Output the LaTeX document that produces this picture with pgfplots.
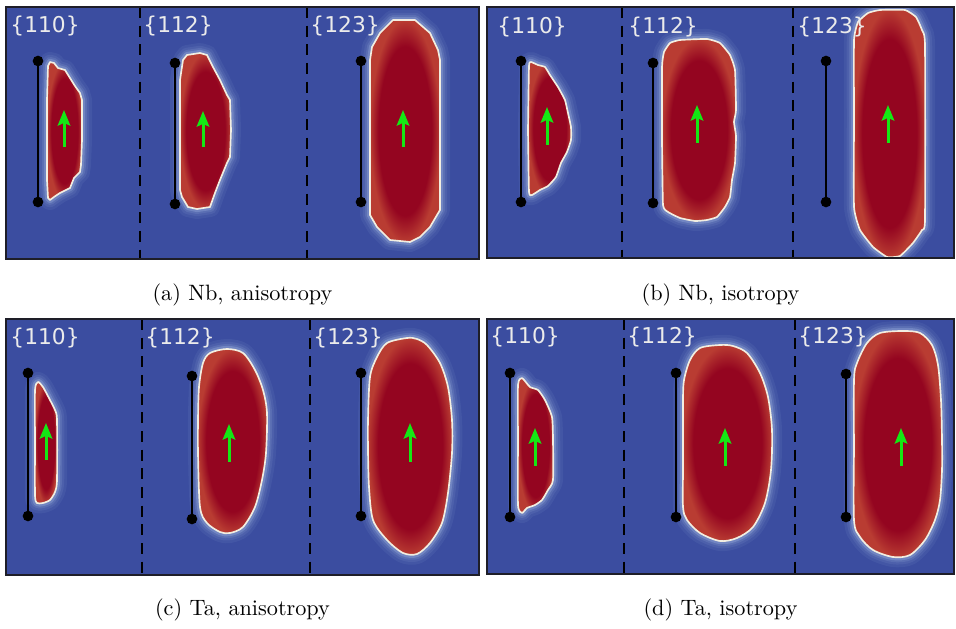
\documentclass[border=0pt]{standalone}
\usepackage{pgfplots}
\pgfplotsset{compat=1.18}
\usepackage{pgfplotstable}
\usepackage{fontspec}
\usetikzlibrary{arrows.meta}
\newfontfamily\labelfont{DejaVu Sans}

% colour map (cool to warm) and annotation colours
\definecolor{bgblue}{RGB}{59,77,160}
\definecolor{framecol}{RGB}{30,30,40}
\definecolor{haze}{RGB}{185,205,240}
\definecolor{rim}{RGB}{242,238,225}
\definecolor{loopdark}{RGB}{148,5,32}
\definecolor{loopedge}{RGB}{185,60,50}
\definecolor{burgers}{RGB}{20,232,20}
\definecolor{labelwhite}{RGB}{235,235,235}

\pgfdeclareradialshading{loopshade}{\pgfpoint{0bp}{0bp}}{%
  color(0bp)=(loopdark); color(19bp)=(loopdark); color(25bp)=(loopedge);
  color(26bp)=(loopedge); color(50bp)=(loopedge)}

% one dislocation loop: soft glow, shaded interior, bright contour
\newcommand{\loopblob}[2][]{%
  \addplot[draw=haze, line width=9pt, opacity=0.07, line join=round, #1] table {#2} -- cycle;
  \addplot[draw=haze, line width=6.5pt, opacity=0.09, line join=round, #1] table {#2} -- cycle;
  \addplot[draw=haze, line width=4.5pt, opacity=0.13, line join=round, #1] table {#2} -- cycle;
  \addplot[draw=haze, line width=2.8pt, opacity=0.25, line join=round, #1] table {#2} -- cycle;
  \addplot[draw=rim, line width=0.75pt, shading=loopshade, line join=round, #1] table {#2} -- cycle;
}
% black reference segment with end points
\newcommand{\segment}[3]{%
  \addplot[black, line width=1.1pt, mark=*, mark size=1.8pt, mark options={fill=black}]
    coordinates {(#1,#2) (#1,#3)};
}
% Burgers vector arrow
\newcommand{\burgers}[3]{%
  \addplot[burgers, line width=1.35pt, -{Stealth[length=7pt, width=5.6pt, inset=1.2pt]}]
    coordinates {(#1,#2) (#1,#3)};
}
\newcommand{\divider}[3]{%
  \addplot[black, line width=0.9pt, dash pattern=on 5pt off 3.4pt]
    coordinates {(#1,#2) (#1,#3)};
}
\newcommand{\plane}[3]{%
  \node[anchor=base west, inner sep=0pt, text=labelwhite, font=\labelfont\fontsize{9.8}{11}\selectfont]
    at (axis cs:#1,#2) {#3};
}

\pgfplotsset{panel/.style={scale only axis, y dir=reverse, xtick=\empty, ytick=\empty,
  axis line style={draw=framecol, line width=0.7pt},
  axis background/.style={fill=bgblue}, axis on top, clip mode=individual,
  anchor=north west}}

% ---------- loop contours (pixel units) ----------
% Nb, anisotropic
\pgfplotstableread{
x y
48 66
50 62
54 63
58 68
65 70
70 78
75 86
80 93
82 100
82 140
81 165
80 172
74 178
70 188
66 190
60 193
54 197
50 200
48 198
47 180
47 100
}\NbAa
\pgfplotstableread{
x y
180 80
183 60
187 55
200 53
207 55
213 67
220 80
227 95
230 100
231 130
230 157
227 163
220 180
215 193
210 207
197 209
188 207
182 197
180 190
180 130
}\NbAb
\pgfplotstableread{
x y
370 60
372 47
380 33
393 20
415 20
430 33
438 50
440 60
440 210
430 227
420 237
410 242
390 240
377 227
370 215
370 130
}\NbAc
% Nb, isotropic
\pgfplotstableread{
x y
528 130
529 66
531 62
538 65
545 67
550 75
558 87
565 100
568 113
571 127
571 140
567 152
561 163
556 177
548 186
540 190
532 195
529 192
528 130
}\NbIa
\pgfplotstableread{
x y
662 140
662 67
664 52
670 43
680 40
707 39
720 43
730 55
735 70
736 110
734 122
736 136
735 163
732 180
730 197
725 207
717 217
707 220
695 221
680 218
668 212
663 205
662 140
}\NbIb
\pgfplotstableread{
x y
854 120
854 40
858 22
868 13
880 10
905 10
916 17
922 30
925 45
925 220
922 230
913 243
900 256
887 257
873 247
860 230
854 207
854 120
}\NbIc
% Ta, anisotropic
\pgfplotstableread{
x y
35 440
35 390
38 382
43 387
50 400
55 410
57 420
57 480
55 492
50 500
43 503
37 503
35 495
35 440
}\TaAa
\pgfplotstableread{
x y
198 420
199 387
203 363
210 353
227 349
243 353
255 370
263 390
267 413
266 453
262 480
255 507
243 527
230 533
220 532
207 523
200 507
198 453
198 420
}\TaAb
\pgfplotstableread{
x y
368 450
368 420
370 377
377 357
387 343
407 338
417 339
427 345
440 363
448 387
452 420
452 453
448 493
442 523
430 543
417 554
403 553
387 540
373 520
369 487
368 450
}\TaAc
% Ta, isotropic
\pgfplotstableread{
x y
518 440
518 385
522 378
530 387
538 390
545 400
552 417
553 440
553 480
548 490
542 500
535 505
527 508
522 513
518 505
518 440
}\TaIa
\pgfplotstableread{
x y
683 440
683 400
684 380
690 360
700 348
720 345
733 346
747 353
760 373
768 397
772 430
771 470
765 503
753 527
737 538
720 541
700 533
687 520
683 507
683 470
683 440
}\TaIb
\pgfplotstableread{
x y
854 450
854 380
857 363
867 343
880 333
903 331
920 333
932 345
938 365
941 400
942 440
942 470
940 500
935 520
925 540
910 555
893 557
873 550
860 537
854 520
854 450
}\TaIc

\begin{document}
\begin{tikzpicture}
\path (0,0) rectangle (430.2pt,-282.15pt);

% (a) Nb, anisotropy
\begin{axis}[panel, name=pa, at={(6*0.45pt,-7*0.45pt)},
  width=212.85pt, height=113.4pt, xmin=6, xmax=479, ymin=7, ymax=259]
  \divider{140}{7}{259}
  \divider{307}{7}{259}
  \loopblob{\NbAa}
  \loopblob{\NbAb}
  \loopblob{\NbAc}
  \segment{38}{61}{202}
  \segment{175}{63}{204}
  \segment{361}{61}{202}
  \burgers{64}{147}{110}
  \burgers{203}{147}{111}
  \burgers{403}{147}{110}
  \plane{10}{33}{\{110\}}
  \plane{143}{33}{\{112\}}
  \plane{310}{33}{\{123\}}
\end{axis}

% (b) Nb, isotropy
\begin{axis}[panel, name=pb, at={(487*0.45pt,-7*0.45pt)},
  width=210.15pt, height=112.95pt, xmin=487, xmax=954, ymin=7, ymax=258]
  \divider{622}{7}{258}
  \divider{793}{7}{258}
  \loopblob[smooth, tension=0.25]{\NbIa}
  \loopblob[smooth, tension=0.25]{\NbIb}
  \loopblob[smooth, tension=0.25]{\NbIc}
  \segment{521}{61}{202}
  \segment{653}{63}{203}
  \segment{826}{61}{202}
  \burgers{547}{145}{107}
  \burgers{697}{143}{105}
  \burgers{888}{143}{105}
  \plane{497}{34}{\{110\}}
  \plane{628}{34}{\{112\}}
  \plane{797}{34}{\{123\}}
\end{axis}

% (c) Ta, anisotropy
\begin{axis}[panel, name=pc, at={(6*0.45pt,-319*0.45pt)},
  width=212.85pt, height=115.2pt, xmin=6, xmax=479, ymin=319, ymax=575]
  \divider{142}{319}{575}
  \divider{310}{319}{575}
  \loopblob[smooth, tension=0.4]{\TaAa}
  \loopblob[smooth, tension=0.5]{\TaAb}
  \loopblob[smooth, tension=0.5]{\TaAc}
  \segment{28}{373}{516}
  \segment{192}{376}{519}
  \segment{361}{373}{516}
  \burgers{46}{460}{423}
  \burgers{229}{462}{424}
  \burgers{410}{462}{423}
  \plane{10}{345}{\{110\}}
  \plane{145}{345}{\{112\}}
  \plane{313}{345}{\{123\}}
\end{axis}

% (d) Ta, isotropy
\begin{axis}[panel, name=pd, at={(487*0.45pt,-319*0.45pt)},
  width=210.15pt, height=114.75pt, xmin=487, xmax=954, ymin=319, ymax=574]
  \divider{624}{319}{574}
  \divider{795}{319}{574}
  \loopblob[smooth, tension=0.35]{\TaIa}
  \loopblob[smooth, tension=0.5]{\TaIb}
  \loopblob[smooth, tension=0.5]{\TaIc}
  \segment{510}{373}{517}
  \segment{676}{373}{517}
  \segment{846}{374}{517}
  \burgers{535}{466}{428}
  \burgers{725}{466}{428}
  \burgers{901}{466}{428}
  \plane{490}{344}{\{110\}}
  \plane{627}{344}{\{112\}}
  \plane{798}{344}{\{123\}}
\end{axis}

% sub-captions
\node[anchor=base] at (242.5*0.45pt,-301*0.45pt) {(a) Nb, anisotropy};
\node[anchor=base] at (720.5*0.45pt,-301*0.45pt) {(b) Nb, isotropy};
\node[anchor=base] at (242.5*0.45pt,-616*0.45pt) {(c) Ta, anisotropy};
\node[anchor=base] at (720.5*0.45pt,-616*0.45pt) {(d) Ta, isotropy};
\end{tikzpicture}
\end{document}
